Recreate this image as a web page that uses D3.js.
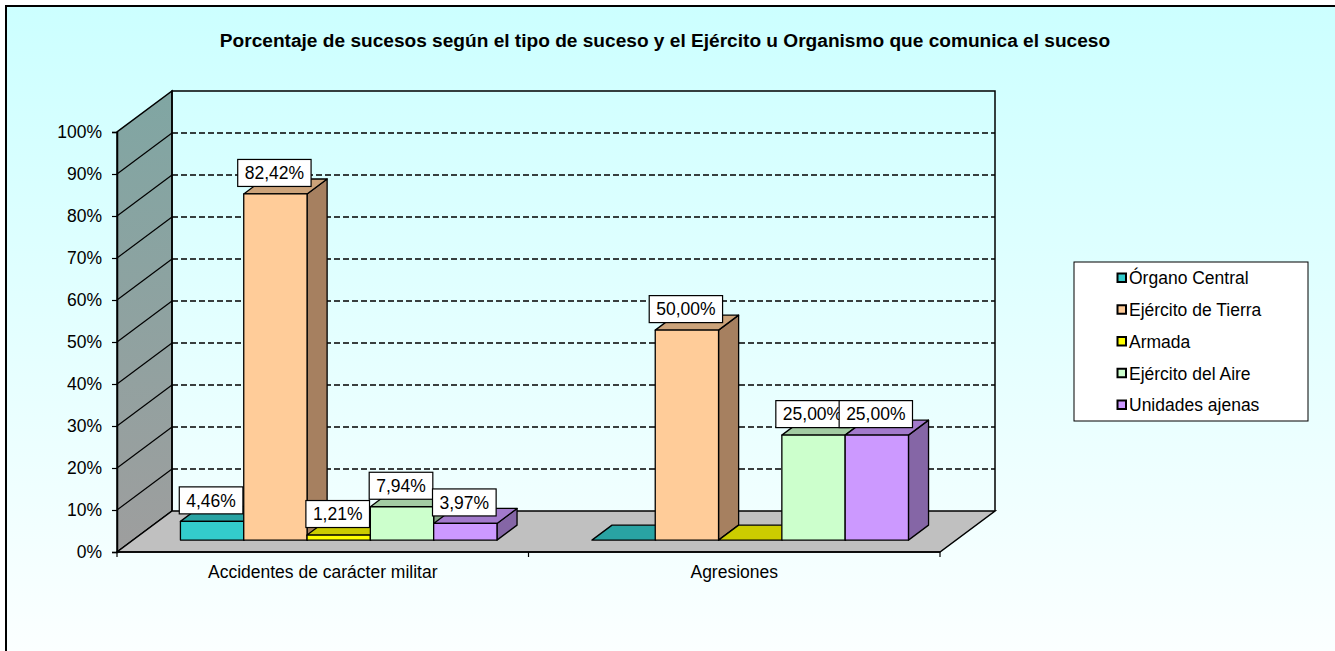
<!DOCTYPE html>
<html><head><meta charset="utf-8">
<script src="https://cdn.jsdelivr.net/npm/d3@7"></script>
<style>html,body{margin:0;padding:0;background:#fff;}svg{display:block;}</style>
</head><body>
<svg id="chart" width="1335" height="651"></svg>
<script>
const title = "Porcentaje de sucesos según el tipo de suceso y el Ejército u Organismo que comunica el suceso";
const categories = ["Accidentes de carácter militar", "Agresiones"];
const seriesNames = ["Órgano Central", "Ejército de Tierra", "Armada", "Ejército del Aire", "Unidades ajenas"];
const organoCentral = [4.46, 0];
const ejercitoTierra = [82.42, 50];
const armada = [1.21, 0];
const ejercitoAire = [7.94, 25];
const unidadesAjenas = [3.97, 25];
const yTicks = [0, 10, 20, 30, 40, 50, 60, 70, 80, 90, 100];
const seriesValues = [organoCentral, ejercitoTierra, armada, ejercitoAire, unidadesAjenas];
const frontColors = ["#33CCCC", "#FFCC99", "#FFFF00", "#CCFFCC", "#CC99FF"];
const topColors = ["#29A3A3", "#CCA37A", "#CCCC00", "#A3CCA3", "#A37ACC"];
const sideColors = ["#1F7A7A", "#A68060", "#A6A600", "#85A685", "#8566A6"];

const svg = d3.select("#chart");
const FONT = "Arial, 'Liberation Sans', sans-serif";
const FS = 17.5;
const defs = svg.append("defs");
const bg = defs.append("linearGradient").attr("id", "bg").attr("x1", 0).attr("y1", 0).attr("x2", 0).attr("y2", 1);
bg.append("stop").attr("offset", "0%").attr("stop-color", "#CCFFFF");
bg.append("stop").attr("offset", "100%").attr("stop-color", "#FFFFFF");
const sw = defs.append("linearGradient").attr("id", "sidewall").attr("x1", 0).attr("y1", 0).attr("x2", 0).attr("y2", 1);
sw.append("stop").attr("offset", "0%").attr("stop-color", "#80A6A3");
sw.append("stop").attr("offset", "100%").attr("stop-color", "#9E9E9E");

svg.append("rect").attr("x", 0).attr("y", 0).attr("width", 1335).attr("height", 651).attr("fill", "#fff");
svg.append("rect").attr("x", 6).attr("y", 6).attr("width", 1340).attr("height", 700)
  .attr("fill", "url(#bg)").attr("stroke", "#000").attr("stroke-width", 2);

// geometry
const x0 = 117, x1 = 940;
const depth = [55, -41];
const y = d3.scaleLinear().domain([0, 100]).range([552, 132]);
const xCat = d3.scaleBand().domain(categories).range([x0, x1]).padding(0);
const xSer = d3.scaleBand().domain(seriesNames).range([0, xCat.bandwidth()]).paddingInner(0).paddingOuter(0.75);
const P = (x, yy, t) => [x + depth[0] * t, yy + depth[1] * t];
const line = d3.line();

// title
svg.append("text").attr("x", 665).attr("y", 47).attr("text-anchor", "middle")
  .attr("font-family", FONT).attr("font-weight", "bold").attr("font-size", 19.1).text(title);

// side wall
svg.append("path").attr("d", line([P(x0, y(0), 0), P(x0, y(100), 0), P(x0, y(100), 1), P(x0, y(0), 1)]) + "Z")
  .attr("fill", "url(#sidewall)").attr("stroke", "#000").attr("stroke-width", 1.5);
// floor
svg.append("path").attr("d", line([P(x0, y(0), 0), P(x1, y(0), 0), P(x1, y(0), 1), P(x0, y(0), 1)]) + "Z")
  .attr("fill", "#C0C0C0").attr("stroke", "#000").attr("stroke-width", 1.5);
// back wall outline
svg.append("path").attr("d", line([P(x0, y(0), 1), P(x0, y(100), 1), P(x1, y(100), 1), P(x1, y(0), 1)]))
  .attr("fill", "none").attr("stroke", "#000").attr("stroke-width", 1.5);

// gridlines
yTicks.filter(v => v > 0 && v < 100).forEach(v => {
  svg.append("path").attr("d", line([P(x0, y(v), 1), P(x1, y(v), 1)]))
    .attr("stroke", "#000").attr("stroke-width", 1.5).attr("stroke-dasharray", "6,3").attr("fill", "none");
  svg.append("path").attr("d", line([P(x0, y(v), 0), P(x0, y(v), 1)]))
    .attr("stroke", "#000").attr("stroke-width", 1.2).attr("fill", "none");
});

// y axis
const yAxis = d3.axisLeft(y).tickValues(yTicks).tickSize(5).tickFormat(d => d + "%");
const gy = svg.append("g").attr("transform", `translate(${x0},0)`).call(yAxis);
gy.select(".domain").attr("stroke", "#000").attr("stroke-width", 1.5);
gy.selectAll(".tick line").attr("stroke", "#000").attr("stroke-width", 1.2);
gy.selectAll(".tick text").attr("font-family", FONT).attr("font-size", FS).attr("fill", "#000").attr("x", -15).attr("dy", "0.34em");

// x axis
const xAxis = d3.axisBottom(xCat).tickSize(0);
const gx = svg.append("g").attr("transform", `translate(0,${y(0)})`).call(xAxis);
gx.select(".domain").remove();
gx.selectAll(".tick text").attr("font-family", FONT).attr("font-size", FS).attr("fill", "#000").attr("y", 26).attr("dy", 0);
[x0, x0 + xCat.bandwidth(), x1].forEach(xx => {
  svg.append("line").attr("x1", xx).attr("x2", xx).attr("y1", y(0)).attr("y2", y(0) + 5).attr("stroke", "#000").attr("stroke-width", 1.2);
});
svg.append("line").attr("x1", x0).attr("x2", x1).attr("y1", y(0)).attr("y2", y(0)).attr("stroke", "#000").attr("stroke-width", 1.5);

// bars
const tF = 0.29, tB = 0.655;
const labels = [];
categories.forEach((c, ci) => {
  seriesNames.forEach((s, si) => {
    const v = seriesValues[si][ci];
    const xl = xCat(c) + xSer(s), xr = xl + xSer.bandwidth();
    const yb = y(0), yt = y(v);
    const g = svg.append("g");
    const add = (pts, fill) => {
      g.append("path").attr("d", line(pts) + "Z").attr("fill", fill)
        .attr("stroke", "#000").attr("stroke-width", 1.3).attr("stroke-linejoin", "round");
    };
    if (v > 0) {
      add([P(xr, yb, tF), P(xr, yt, tF), P(xr, yt, tB), P(xr, yb, tB)], sideColors[si]);
      add([P(xl, yt, tF), P(xr, yt, tF), P(xr, yt, tB), P(xl, yt, tB)], topColors[si]);
      add([P(xl, yb, tF), P(xr, yb, tF), P(xr, yt, tF), P(xl, yt, tF)], frontColors[si]);
      const c0 = P((xl + xr) / 2 - 1, yt, tF);
      labels.push({ x: c0[0], y: c0[1] - 21, text: d3.format(".2f")(v).replace(".", ",") + "%" });
    } else {
      add([P(xl, yb, tF), P(xr, yb, tF), P(xr, yb, tB), P(xl, yb, tB)], topColors[si]);
    }
  });
});

// data labels
labels.forEach(l => {
  const g = svg.append("g");
  const t = g.append("text").attr("x", l.x).attr("y", l.y).attr("text-anchor", "middle").attr("dy", "0.36em")
    .attr("font-family", FONT).attr("font-size", FS).text(l.text);
  const bb = t.node().getBBox();
  g.insert("rect", "text").attr("x", bb.x - 7).attr("y", l.y - 13.5).attr("width", bb.width + 14).attr("height", 27)
    .attr("fill", "#fff").attr("stroke", "#000").attr("stroke-width", 1.2);
});

// legend
const lg = svg.append("g");
lg.append("rect").attr("x", 1074).attr("y", 262).attr("width", 234).attr("height", 159)
  .attr("fill", "#fff").attr("stroke", "#000").attr("stroke-width", 1);
const ly = d3.scalePoint().domain(seriesNames).range([278, 405]);
seriesNames.forEach((s, i) => {
  lg.append("rect").attr("x", 1117.5).attr("y", ly(s) - 4.5).attr("width", 8.5).attr("height", 8.5)
    .attr("fill", frontColors[i]).attr("stroke", "#000").attr("stroke-width", 2);
  lg.append("text").attr("x", 1129).attr("y", ly(s)).attr("dy", "0.36em").attr("font-family", FONT).attr("font-size", FS).text(s);
});
</script>
</body></html>
